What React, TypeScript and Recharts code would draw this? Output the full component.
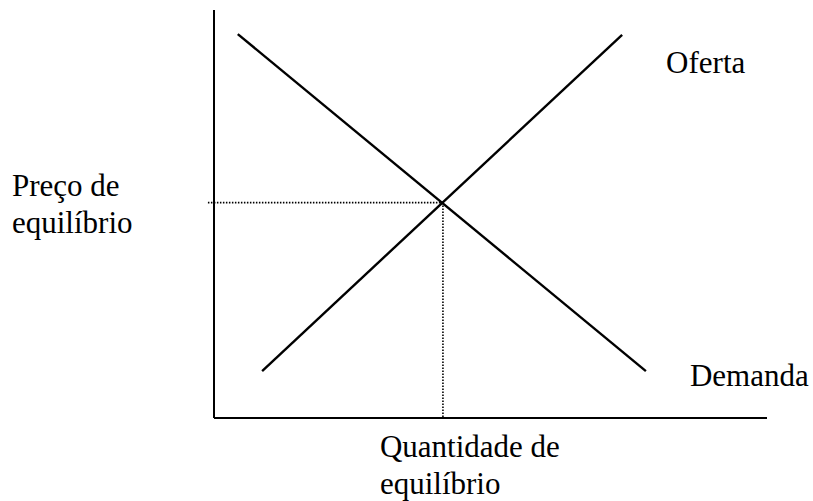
import { LineChart, Line, XAxis, YAxis, ReferenceLine } from 'recharts'

// quantidade (0–100) x preço (0–100)
const demanda = [
  { q: 4.3, p: 94.1 },
  { q: 78.1, p: 11.5 },
]

const oferta = [
  { q: 8.7, p: 11.5 },
  { q: 73.8, p: 93.9 },
]

const equilibrio = { q: 41.4, p: 52.8 }
const inicioGuia = -1.1

const rotuloPreco = ['Preço de', 'equilíbrio']
const rotuloQuantidade = ['Quantidade de', 'equilíbrio']

const FONT = "'Liberation Serif', 'Times New Roman', serif"
const FONT_SIZE = 31

function TickPreco({ x, y }: any) {
  return (
    <g>
      <text x={x - 202} y={y - 6.5} fontFamily={FONT} fontSize={FONT_SIZE} fill="#000">
        {rotuloPreco[0]}
      </text>
      <text x={x - 202} y={y + 30.5} fontFamily={FONT} fontSize={FONT_SIZE} fill="#000">
        {rotuloPreco[1]}
      </text>
    </g>
  )
}

function TickQuantidade({ x, y }: any) {
  return (
    <g>
      <text x={x - 63} y={y + 39} fontFamily={FONT} fontSize={FONT_SIZE} fill="#000">
        {rotuloQuantidade[0]}
      </text>
      <text x={x - 63} y={y + 76} fontFamily={FONT} fontSize={FONT_SIZE} fill="#000">
        {rotuloQuantidade[1]}
      </text>
    </g>
  )
}

const rotuloFinal = (nome: string, last: number, dx: number, dy: number) => (props: any) => {
  if (props.index !== last) return <g key={`l-${props.index}`} />
  return (
    <text
      key={`l-${props.index}`}
      x={props.x + dx}
      y={props.y + dy}
      fontFamily={FONT}
      fontSize={FONT_SIZE}
      fill="#000"
    >
      {nome}
    </text>
  )
}

export default function App() {
  return (
    <div style={{ position: 'absolute', left: 0, top: 0, background: '#fff' }}>
      <LineChart width={813} height={501} margin={{ top: 10, right: 46, bottom: 0, left: 0 }}>
        <XAxis
          type="number"
          dataKey="q"
          domain={[0, 100]}
          ticks={[equilibrio.q]}
          tick={<TickQuantidade />}
          tickLine={false}
          tickSize={0}
          tickMargin={0}
          height={83}
          axisLine={{ stroke: '#000', strokeWidth: 2 }}
        />
        <YAxis
          type="number"
          dataKey="p"
          domain={[0, 100]}
          ticks={[equilibrio.p]}
          tick={<TickPreco />}
          tickLine={false}
          tickSize={0}
          tickMargin={0}
          width={214}
          axisLine={{ stroke: '#000', strokeWidth: 2 }}
        />
        <ReferenceLine
          segment={[
            { x: inicioGuia, y: equilibrio.p },
            { x: equilibrio.q, y: equilibrio.p },
          ]}
          ifOverflow="visible"
          stroke="#000"
          strokeWidth={1.6}
          strokeDasharray="1.5 1.5"
        />
        <ReferenceLine
          segment={[
            { x: equilibrio.q, y: equilibrio.p },
            { x: equilibrio.q, y: 0 },
          ]}
          ifOverflow="visible"
          stroke="#000"
          strokeWidth={1.6}
          strokeDasharray="1.5 1.5"
        />
        <Line
          data={demanda}
          dataKey="p"
          type="linear"
          stroke="#000"
          strokeWidth={2.4}
          dot={false}
          activeDot={false}
          isAnimationActive={false}
          label={rotuloFinal('Demanda', demanda.length - 1, 44, 15)}
        />
        <Line
          data={oferta}
          dataKey="p"
          type="linear"
          stroke="#000"
          strokeWidth={2.4}
          dot={false}
          activeDot={false}
          isAnimationActive={false}
          label={rotuloFinal('Oferta', oferta.length - 1, 44, 38)}
        />
      </LineChart>
    </div>
  )
}
